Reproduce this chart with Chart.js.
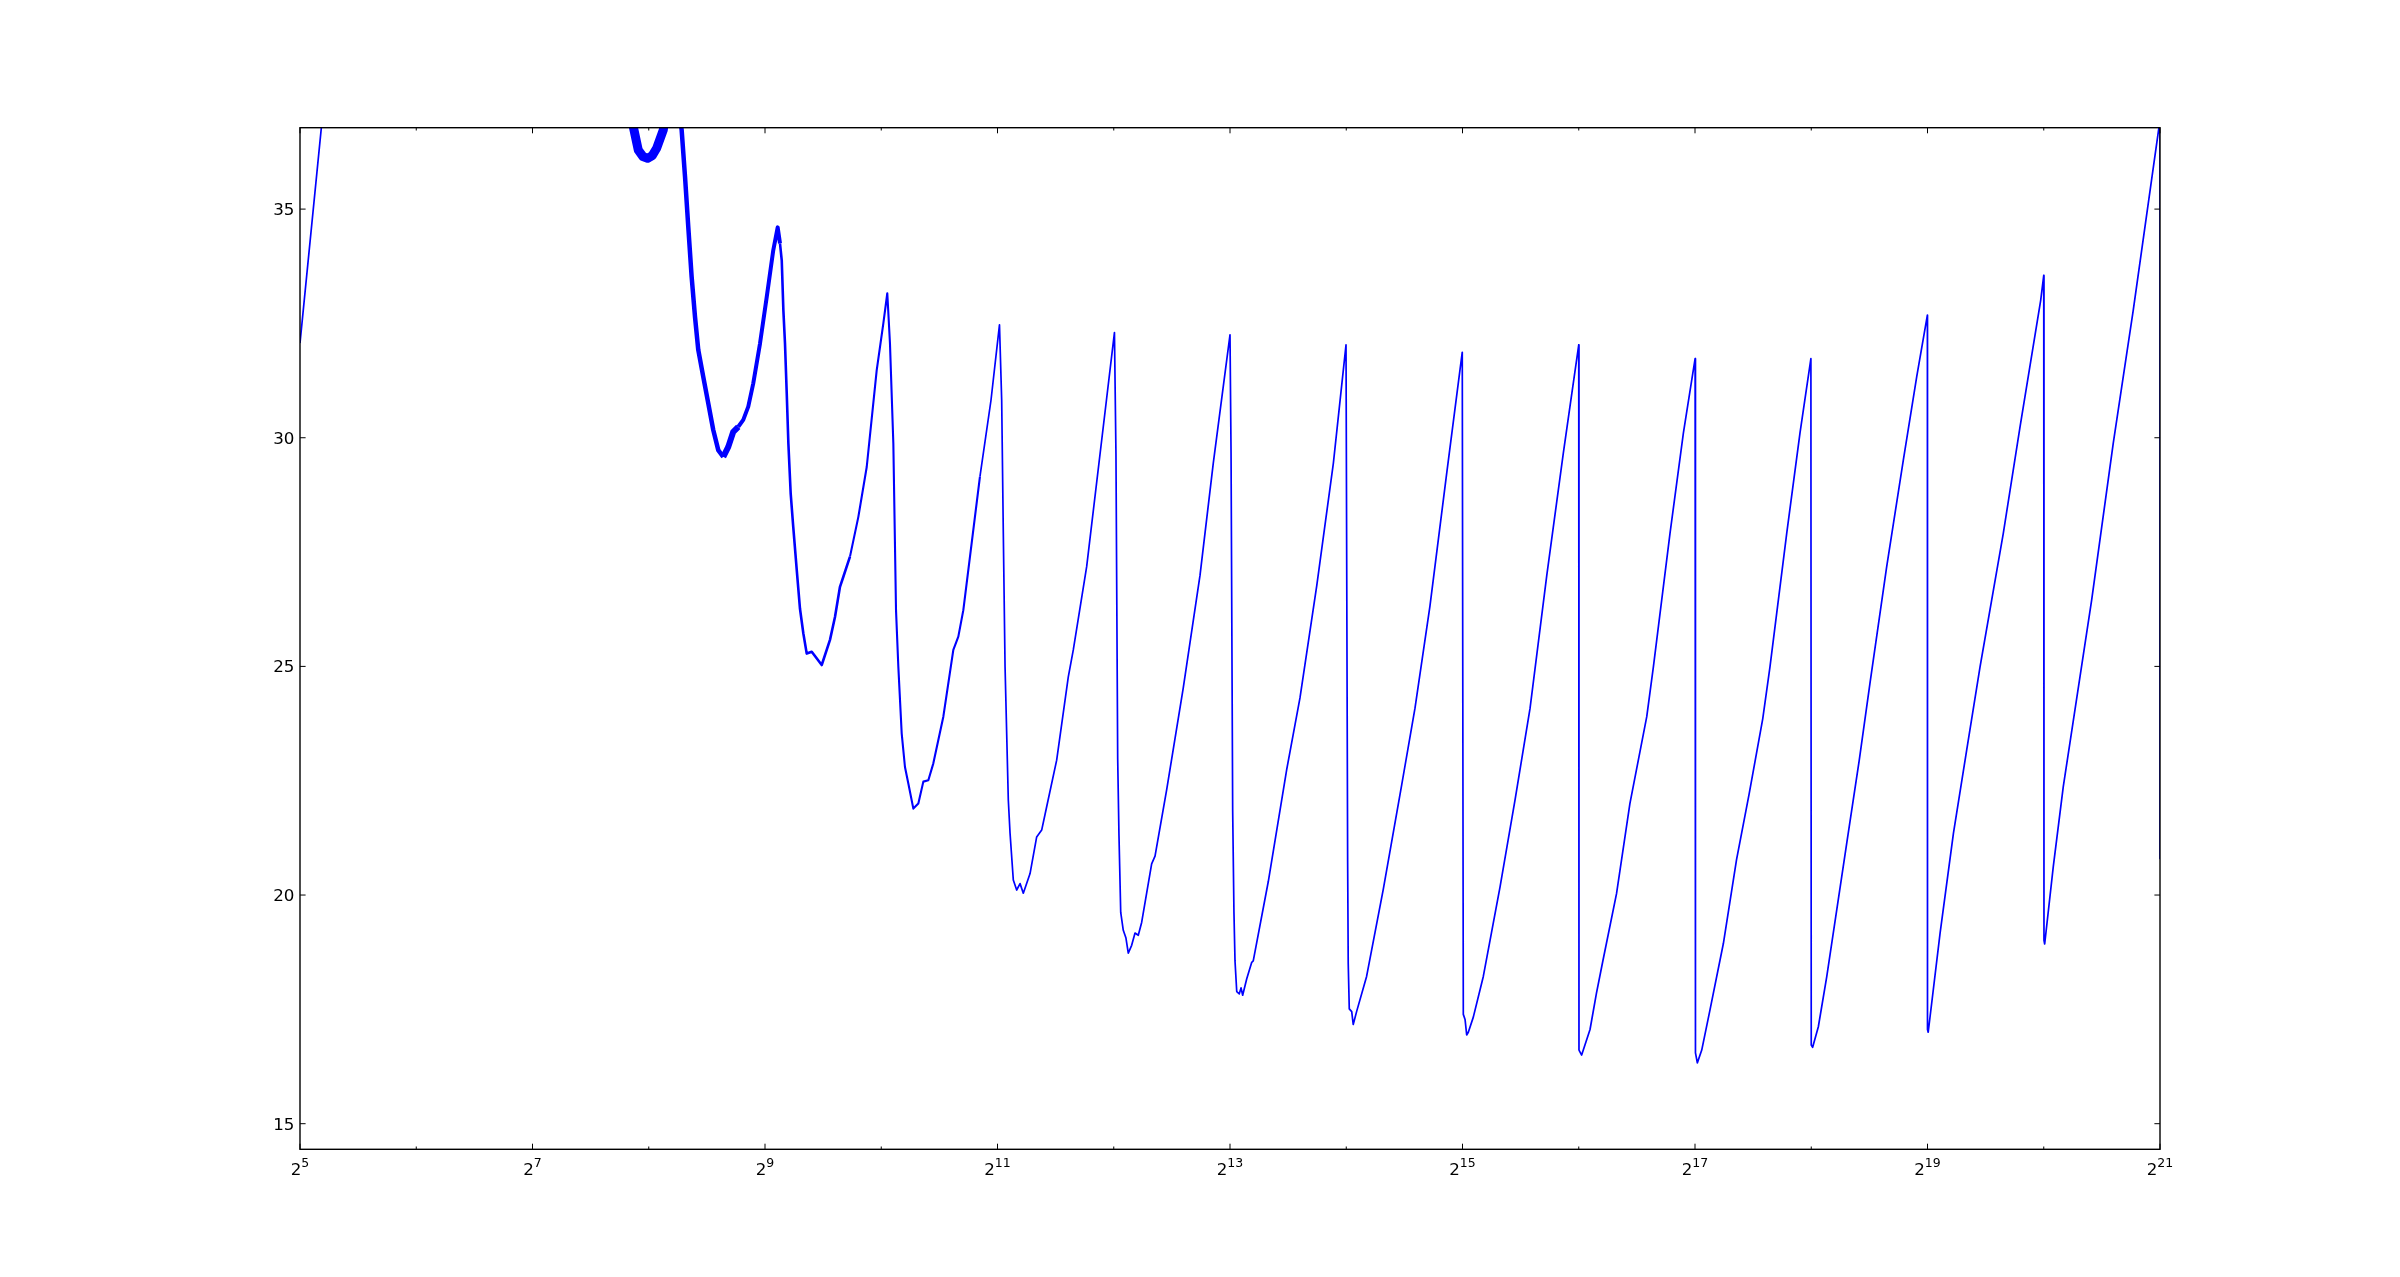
<!DOCTYPE html>
<html>
<head>
<meta charset="utf-8">
<script src="https://cdn.jsdelivr.net/npm/chart.js@4.4.1/dist/chart.umd.min.js"></script>
<style>
    html, body { margin: 0; padding: 0; background: #fff; }
    canvas { display: block; }
</style>
</head>
<body>
<canvas id="chart" width="2400" height="1277"></canvas>
<script>
// x positions as powers of two (log2 of size), y values
const log2Size = [
    5.000, 5.200, 6.000, 7.000, 7.800, 7.910, 7.950, 7.990, 8.030, 8.068,
    8.125, 8.200,
    8.283, 8.312, 8.340, 8.369, 8.398, 8.426, 8.469, 8.512, 8.555, 8.598,
    8.641, 8.684, 8.727, 8.770, 8.813, 8.856, 8.899, 8.957, 9.015, 9.071,
    9.109, 9.129, 9.144, 9.158, 9.172, 9.187, 9.201, 9.221, 9.243, 9.273,
    9.301, 9.330, 9.359, 9.402, 9.488, 9.559, 9.602, 9.645, 9.674, 9.731,
    9.803, 9.875, 9.961, 10.018, 10.052,
    10.075, 10.104, 10.127, 10.147, 10.176, 10.204, 10.233, 10.276, 10.319, 10.362,
    10.405, 10.448, 10.534, 10.620, 10.663, 10.706, 10.849, 10.944, 11.017,
    11.036, 11.050, 11.065, 11.093, 11.108, 11.136, 11.165, 11.194, 11.222, 11.280,
    11.337, 11.380, 11.423, 11.509, 11.609, 11.652, 11.767, 11.937, 12.006,
    12.019, 12.034, 12.045, 12.060, 12.082, 12.105, 12.125, 12.154, 12.183, 12.211,
    12.240, 12.326, 12.355, 12.455, 12.598, 12.742, 12.856, 13.000,
    13.009, 13.023, 13.034, 13.043, 13.058, 13.080, 13.095, 13.109, 13.144, 13.187,
    13.200, 13.329, 13.488, 13.602, 13.746, 13.889, 13.998,
    14.012, 14.017, 14.026, 14.047, 14.060, 14.089, 14.175, 14.318, 14.477, 14.591,
    14.720, 14.864, 14.998,
    15.007, 15.022, 15.036, 15.050, 15.093, 15.179, 15.323, 15.452, 15.581, 15.725,
    15.867, 16.000,
    16.002, 16.025, 16.097, 16.152, 16.209, 16.325, 16.440, 16.585, 16.642, 16.785,
    16.900, 17.001,
    17.004, 17.020, 17.058, 17.129, 17.244, 17.357, 17.465, 17.583, 17.645, 17.789,
    17.903, 17.997,
    18.000, 18.012, 18.061, 18.133, 18.219, 18.305, 18.413, 18.505, 18.649, 18.792,
    18.907, 18.999,
    19.000, 19.006, 19.108, 19.223, 19.337, 19.452, 19.652, 19.796, 19.974, 20.000,
    20.002, 20.008, 20.082, 20.168, 20.412, 20.598, 20.770, 21.000,
    21.000
];
const yValues = [
    32.07, 37.20, 44.00, 42.00, 37.60, 36.29, 36.15, 36.11, 36.17, 36.33,
    36.73, 38.20,
    36.73, 35.71, 34.61, 33.52, 32.64, 31.92, 31.33, 30.75, 30.17, 29.73,
    29.58, 29.80, 30.13, 30.24, 30.39, 30.68, 31.19, 32.06, 33.08, 34.10,
    34.60, 34.25, 33.88, 32.79, 32.06, 30.97, 29.88, 28.78, 28.05, 27.11,
    26.26, 25.72, 25.28, 25.32, 25.03, 25.58, 26.08, 26.74, 26.96, 27.40,
    28.27, 29.36, 31.48, 32.50, 33.16,
    32.06, 29.88, 26.23, 24.99, 23.53, 22.80, 22.44, 21.89, 22.00, 22.48,
    22.51, 22.88, 23.90, 25.36, 25.65, 26.23, 29.15, 30.82, 32.47,
    30.82, 27.91, 24.99, 22.08, 21.35, 20.33, 20.11, 20.25, 20.04, 20.47,
    21.27, 21.42, 21.93, 22.95, 24.77, 25.36, 27.18, 30.82, 32.30,
    29.66, 22.97, 21.30, 19.62, 19.23, 19.06, 18.73, 18.90, 19.17, 19.12,
    19.40, 20.68, 20.85, 22.30, 24.53, 26.99, 29.44, 32.25,
    29.66, 21.85, 19.62, 18.56, 17.89, 17.84, 17.97, 17.81, 18.17, 18.53,
    18.56, 20.29, 22.75, 24.31, 26.76, 29.44, 32.03,
    20.74, 18.51, 17.51, 17.45, 17.17, 17.45, 18.22, 20.12, 22.41, 24.08,
    26.32, 29.22, 31.87,
    17.39, 17.28, 16.94, 17.00, 17.33, 18.22, 20.18, 22.08, 24.08, 26.99,
    29.66, 32.03,
    16.61, 16.50, 17.06, 17.85, 18.58, 20.03, 22.00, 23.90, 24.99, 27.91,
    30.10, 31.73,
    16.55, 16.33, 16.61, 17.49, 18.94, 20.77, 22.20, 23.86, 24.99, 27.91,
    30.10, 31.73,
    16.72, 16.67, 17.12, 18.21, 19.67, 21.13, 22.95, 24.63, 27.18, 29.51,
    31.33, 32.68,
    17.06, 17.00, 19.16, 21.35, 23.17, 24.99, 27.91, 30.24, 33.01, 33.55,
    19.01, 18.93, 20.62, 22.37, 26.45, 29.88, 32.79, 36.95,
    20.80
];

const xTickExponents = [5, 6, 7, 8, 9, 10, 11, 12, 13, 14, 15, 16, 17, 18, 19, 20, 21];
const xLabelExponents = [5, 7, 9, 11, 13, 15, 17, 19, 21];
const yTicks = [15, 20, 25, 30, 35];

const FONT = '"DejaVu Sans", sans-serif';

// the trace is drawn heavier where the measurements were noisy (small sizes)
function lineWidthAt(x) {
    const e = Math.log2(x);
    if (e < 7.7) return 1.7;
    if (e < 8.15) return 9;
    if (e < 8.6) return 4.5;
    if (e < 8.75) return 6;
    if (e < 9.12) return 4;
    if (e < 9.7) return 2.6;
    if (e < 10.8) return 2.1;
    return 1.7;
}

const axisDecor = {
    id: 'axisDecor',
    afterDraw(chart) {
        const {ctx, chartArea: area, scales} = chart;
        const x = scales.x;
        const y = scales.y;
        ctx.save();
        ctx.strokeStyle = '#000';
        ctx.fillStyle = '#000';
        ctx.lineWidth = 1;

        const seg = (x1, y1, x2, y2) => {
            ctx.beginPath();
            ctx.moveTo(x1, y1);
            ctx.lineTo(x2, y2);
            ctx.stroke();
        };

        ctx.font = '16.7px ' + FONT;
        ctx.textAlign = 'right';
        ctx.textBaseline = 'alphabetic';
        yTicks.forEach((v) => {
            const py = y.getPixelForValue(v);
            seg(area.left, py, area.left + 5.6, py);
            seg(area.right, py, area.right - 5.6, py);
            ctx.fillText(String(v), area.left - 5.6, py + 6);
        });

        ctx.textAlign = 'left';
        xTickExponents.forEach((k) => {
            const px = x.getPixelForValue(Math.pow(2, k));
            const len = xLabelExponents.includes(k) ? 5.6 : 2.8;
            seg(px, area.bottom, px, area.bottom - len);
            seg(px, area.top, px, area.top + len);
            if (!xLabelExponents.includes(k)) return;
            ctx.font = '16.7px ' + FONT;
            const wBase = ctx.measureText('2').width;
            ctx.font = '12.5px ' + FONT;
            const wExp = ctx.measureText(String(k)).width;
            const start = px - (wBase + wExp) / 2;
            ctx.font = '16.7px ' + FONT;
            ctx.fillText('2', start, area.bottom + 25.7);
            ctx.font = '12.5px ' + FONT;
            ctx.fillText(String(k), start + wBase, area.bottom + 18);
        });

        ctx.lineWidth = 1.4;
        ctx.strokeRect(area.left, area.top, area.right - area.left, area.bottom - area.top);
        ctx.restore();
    }
};

const points = log2Size.map((e, i) => ({x: Math.pow(2, e), y: yValues[i]}));

new Chart(document.getElementById('chart'), {
    type: 'line',
    data: {
        datasets: [{
            data: points,
            borderColor: '#0000ff',
            borderWidth: 1.7,
            borderJoinStyle: 'round',
            pointRadius: 0,
            tension: 0,
            fill: false,
            clip: 0,
            segment: {
                borderWidth: (c) => lineWidthAt(c.p0.parsed.x)
            }
        }]
    },
    options: {
        responsive: false,
        animation: false,
        devicePixelRatio: 1,
        layout: {
            padding: {left: 0, right: 240, top: 127.7, bottom: 0}
        },
        plugins: {
            legend: {display: false},
            tooltip: {enabled: false}
        },
        scales: {
            x: {
                type: 'logarithmic',
                min: Math.pow(2, 5),
                max: Math.pow(2, 21),
                grid: {display: false},
                border: {display: false},
                ticks: {display: false},
                afterFit: (scale) => { scale.height = 127.7; }
            },
            y: {
                type: 'linear',
                min: 14.44,
                max: 36.78,
                grid: {display: false},
                border: {display: false},
                ticks: {display: false},
                afterFit: (scale) => { scale.width = 300; }
            }
        }
    },
    plugins: [axisDecor]
});
</script>
</body>
</html>
